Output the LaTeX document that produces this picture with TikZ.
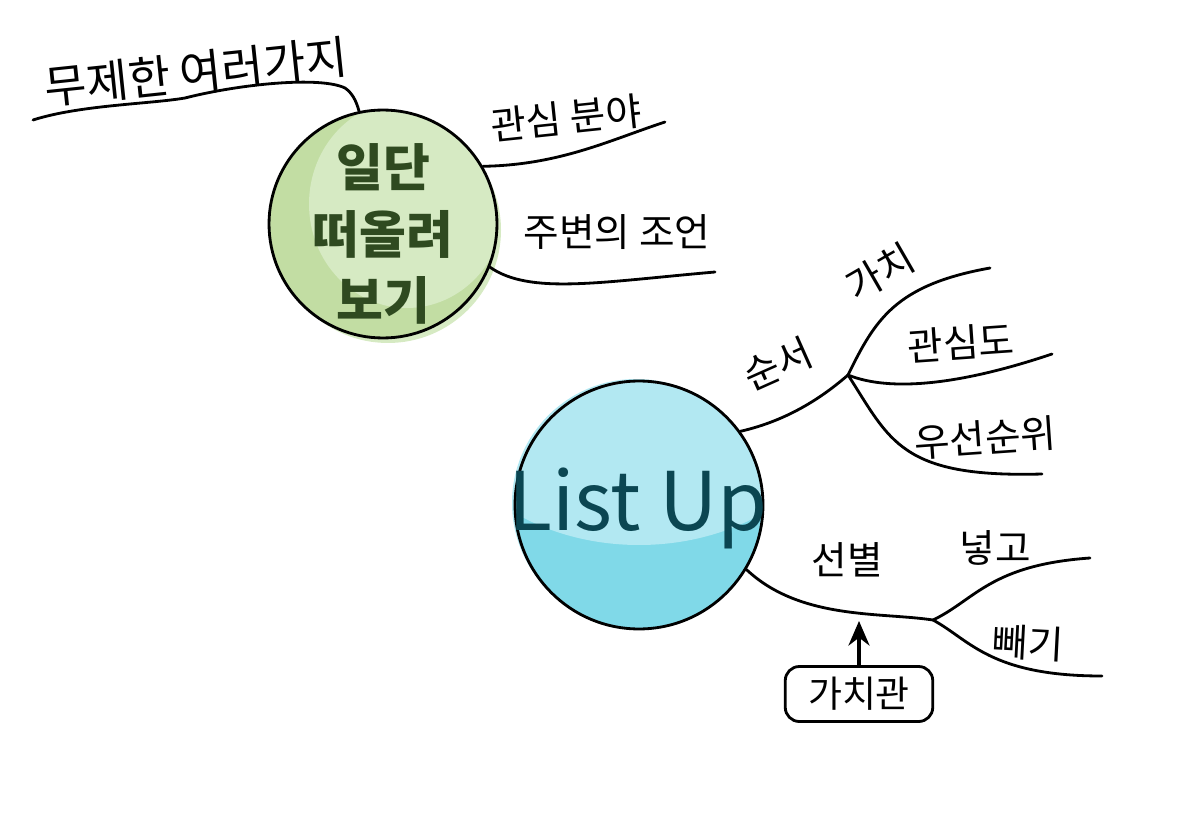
\documentclass[tikz,border=0pt]{standalone}
\usepackage{fontspec}
\setmainfont{Noto Sans CJK KR}
\usetikzlibrary{positioning,calc,arrows.meta}

\definecolor{ideaLight}{HTML}{D6EAC3}
\definecolor{ideaDark}{HTML}{C2DDA3}
\definecolor{ideaInk}{HTML}{2F4A20}
\definecolor{listLight}{HTML}{B2E8F2}
\definecolor{listDark}{HTML}{80D9E8}
\definecolor{listInk}{HTML}{0B4652}

\begin{document}
\begin{tikzpicture}[>=stealth, x=0.02cm, y=-0.02cm]

  % Styles
  \tikzset{
    branch/.style={line width=1.6pt, line cap=round},
    word/.style={font=\fontsize{22}{26}\selectfont, inner sep=1pt},
    bubble/.style={circle, draw=black, line width=1.6pt, inner sep=0pt},
    tagbox/.style={draw, line width=1.6pt, rounded corners=8pt, minimum width=2.95cm,
      minimum height=1.1cm, font=\fontsize{21}{25}\selectfont}
  }

  \useasboundingbox (0,0) rectangle (1193,817);

  % --- BUBBLE 1: brainstorm first ---
  \fill[ideaLight] (388,230) circle (113);
  \node[bubble, minimum size=4.56cm, fill=ideaDark,
    path picture={\fill[ideaLight] ($(path picture bounding box.center)+(24,-20)$) ellipse (98 and 104);}]
    (idea) at (383,224) {};
  \node[font=\fontsize{29}{38}\selectfont\bfseries, text=ideaInk, align=center] (ideaText)
    at (383,234) {일단\\떠올려\\보기};

  % Branch ends
  \coordinate (freeEnd) at (33,120);
  \coordinate (fieldEnd) at (665,122);
  \coordinate (adviceEnd) at (715,272);

  % Branches
  \draw[branch] (freeEnd) .. controls (80,105) and (150,104) .. (185,98)
    .. controls (240,84) and (320,76) .. (345,88) .. controls (352,93) and (356,100) .. (idea.102);
  \draw[branch] (idea.30) .. controls (560,165) and (610,140) .. (fieldEnd);
  \draw[branch] (idea.-22) .. controls (530,295) and (600,282) .. (adviceEnd);

  % Labels
  \node[word, font=\fontsize{26}{30}\selectfont, rotate=6] (free) at (196,72) {무제한 여러가지};
  \node[word, rotate=6] (field) at (566,118) {관심 분야};
  \node[word] (advice) at (617,232) {주변의 조언};

  % --- BUBBLE 2: list up ---
  \fill[listLight] (636,503) circle (124);
  \node[bubble, minimum size=4.96cm, fill=listDark,
    path picture={\fill[listLight] ($(path picture bounding box.center)+(0,-125)$) ellipse (210 and 165);}]
    (list) at (639,505) {};
  \node[font=\fontsize{46}{52}\selectfont, text=listInk] (listText) at (638,508) {List Up};

  % Branch points and ends
  \coordinate (order) at (848,375);
  \coordinate (valueEnd) at (990,268);
  \coordinate (interestEnd) at (1052,354);
  \coordinate (priorityEnd) at (1042,474);
  \coordinate (pick) at (933,620);
  \coordinate (putEnd) at (1090,558);
  \coordinate (dropEnd) at (1102,676);

  % Branches
  \draw[branch] (list.36) .. controls (790,420) and (825,395) .. (order);
  \draw[branch] (order) .. controls (875,320) and (895,285) .. (valueEnd);
  \draw[branch] (order) .. controls (890,392) and (960,385) .. (interestEnd);
  \draw[branch] (order) .. controls (890,440) and (900,478) .. (priorityEnd);
  \draw[branch] (list.-31) .. controls (800,620) and (880,612) .. (pick);
  \draw[branch] (pick) .. controls (975,600) and (990,565) .. (putEnd);
  \draw[branch] (pick) .. controls (970,640) and (990,676) .. (dropEnd);

  % Labels
  \node[word, rotate=24] (orderLabel) at (778,364) {순서};
  \node[word, rotate=30] (value) at (880,272) {가치};
  \node[word, rotate=4] (interest) at (961,343) {관심도};
  \node[word, rotate=4] (priority) at (985,438) {우선순위};
  \node[word] (pickLabel) at (847,560) {선별};
  \node[word] (put) at (995,548) {넣고};
  \node[word, rotate=-3] (drop) at (1028,643) {빼기};

  % Criterion box with arrow
  \node[tagbox] (values) at (859,694) {가치관};
  \coordinate (pickMark) at (859,621);
  \draw[->, line width=2pt, >={Stealth[length=14pt, width=12pt]}] (values) -- (pickMark);

\end{tikzpicture}
\end{document}
